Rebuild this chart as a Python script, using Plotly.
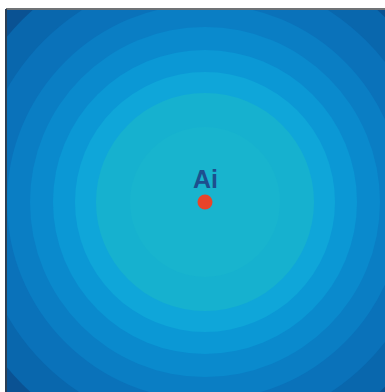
import plotly.graph_objects as go

# Ring boundaries (distance from the centre point, in pixel-like data units)
ring_radii = [258, 228, 198, 175, 152, 130, 109, 75]
ring_colors = ["#0967ad", "#0a72ba", "#0a7ec4", "#0a8acd", "#0b98d5", "#0fa6d9",
               "#16b1cf", "#18b4ce"]
outer_color = "#0a5293"

center_x = [199]
center_y = [193]
point_label = ["Ai"]

fig = go.Figure()

shapes = []
for r, c in zip(ring_radii, ring_colors):
    shapes.append(dict(type="circle", xref="x", yref="y",
                       x0=center_x[0] - r, x1=center_x[0] + r,
                       y0=center_y[0] - r, y1=center_y[0] + r,
                       fillcolor=c, line=dict(width=0), layer="below"))
# frame edges (top and left)
shapes.append(dict(type="line", xref="paper", yref="paper", x0=0, x1=1, y0=1, y1=1,
                   line=dict(color="#6f7376", width=2)))
shapes.append(dict(type="line", xref="paper", yref="paper", x0=0, x1=0, y0=0, y1=1,
                   line=dict(color="#2b3f55", width=2)))

fig.add_trace(go.Scatter(x=center_x, y=center_y, mode="markers",
                         marker=dict(size=15, color="#e8442a", line=dict(width=0)),
                         hoverinfo="skip", showlegend=False))

fig.add_annotation(x=center_x[0], y=center_y[0], text="<b>" + point_label[0] + "</b>",
                   showarrow=False, yshift=23,
                   font=dict(family="Liberation Sans, Arial, sans-serif", size=25, color="#1d4f8e"))

fig.update_layout(
    width=385, height=392,
    margin=dict(l=6, r=0, t=9, b=0),
    paper_bgcolor="white",
    plot_bgcolor=outer_color,
    shapes=shapes,
    xaxis=dict(range=[0, 379], visible=False, fixedrange=True),
    yaxis=dict(range=[383, 0], visible=False, fixedrange=True),
    showlegend=False,
)

fig.write_html("out.html", config={"displayModeBar": False},
               post_script="document.body.style.margin='0';document.body.style.overflow='hidden';")
